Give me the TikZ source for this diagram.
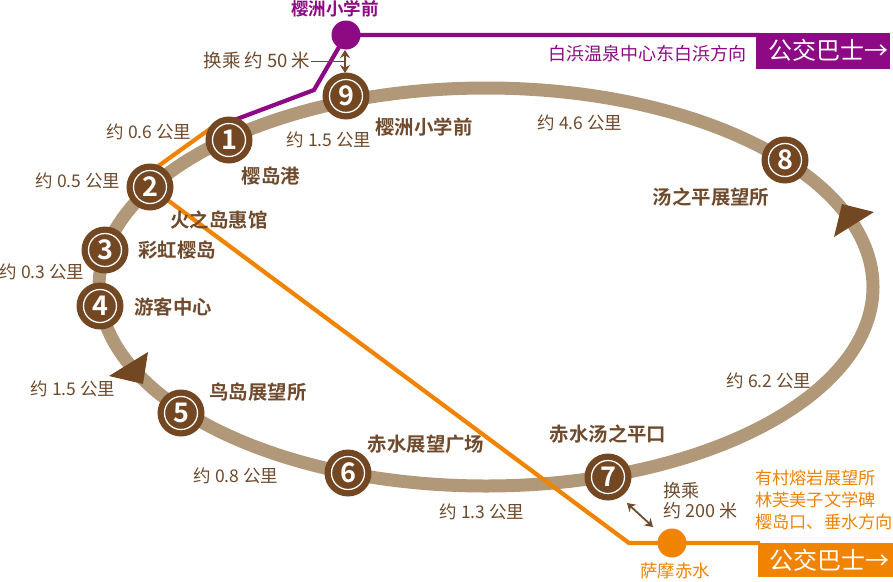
\documentclass[tikz,border=0pt]{standalone}
\usepackage{fontspec}
\setmainfont{Noto Sans CJK SC}[BoldFont={Noto Sans CJK SC Bold}]
\usetikzlibrary{arrows.meta}
\definecolor{trackc}{HTML}{B09878}
\definecolor{brownc}{HTML}{734722}
\definecolor{textc}{HTML}{6F4A2C}
\definecolor{purplec}{HTML}{8E0A84}
\definecolor{orangec}{HTML}{F08300}
\tikzset{
  station/.style={circle,fill=brownc,minimum size=47pt,inner sep=0pt,text=white,
    font=\fontsize{27pt}{27pt}\bfseries,
    path picture={\draw[white,line width=1.3pt] (path picture bounding box.center) circle (16.5pt);}},
  distlabel/.style={text=textc,font=\fontsize{17.5pt}{20pt}\selectfont,inner sep=0pt},
  stationname/.style={text=textc,font=\fontsize{19.4pt}{22pt}\bfseries,inner sep=0pt},
  busstop/.style={circle,minimum size=29pt,inner sep=0pt},
  busbox/.style={text=white,font=\fontsize{24pt}{26pt}\selectfont,anchor=west,inner sep=0pt},
  pline/.style={purplec,line width=4.2pt,line join=round},
  oline/.style={orangec,line width=4.2pt,line join=round},
  tri/.style={fill=brownc,draw=none},
  dbl/.style={textc,line width=1.8pt,{Stealth[length=8pt,width=10pt]}-{Stealth[length=8pt,width=10pt]}},
}
\begin{document}
\begin{tikzpicture}[x=1pt,y=-1pt]
\useasboundingbox (0,0) rectangle (893,581);
% track
\draw[trackc,line width=13pt] (486,287) ellipse [x radius=387,y radius=199];
\fill[tri] (148,352) -- (109,376) -- (143,384) -- cycle;
\fill[tri] (842,204) -- (874,212) -- (834,237) -- cycle;
% positions
\coordinate (c1) at (229,140);
\coordinate (c2) at (150,187);
\coordinate (c1p) at (229,122);
\coordinate (c1o) at (221,121);
\coordinate (c2o) at (150,172);
\coordinate (bendp) at (314,90);
\coordinate (bendo) at (629,543);
\coordinate (pend) at (760,35);
\coordinate (oend) at (760,543);
\coordinate (aup) at (345,50);
\coordinate (adown) at (345,73);
\coordinate (lead) at (311,61.5);
\coordinate (leadend) at (345,61.5);
\coordinate (a7) at (627,503);
\coordinate (ao) at (653,527);
% bus boxes
\fill[purplec] (756,33) rectangle (890,69);
\fill[orangec] (758,543) rectangle (893,577);
\node[busbox] (busp) at (768,50) {公交巴士→};
\node[busbox] (buso) at (769,560) {公交巴士→};
% stops
\node[busstop,fill=purplec] (sp) at (346,35) {};
\node[busstop,fill=orangec] (so) at (672,543) {};
% lines
\draw[pline] (c1p) -- (bendp) -- (sp.center) -- (pend);
\draw[oline] (c1o) -- (c2o);
\draw[oline] (c2) -- (bendo) -- (oend);
% transfer marks
\draw[textc,line width=1.2pt] (lead) -- (leadend);
\draw[dbl] (aup) -- (adown);
\draw[dbl] (a7) -- (ao);
% stations
\node[station] (n1) at (c1) {1};
\node[station] (n2) at (c2) {2};
\node[station] (n3) at (105,250) {3};
\node[station] (n4) at (100,306) {4};
\node[station] (n5) at (181,413) {5};
\node[station] (n6) at (348,473) {6};
\node[station] (n7) at (608,477) {7};
\node[station] (n8) at (785,160) {8};
\node[station] (n9) at (346,96) {9};
% distances
\node[distlabel] (d1) at (149,132) {约 0.6 公里};
\node[distlabel] (d2) at (78,181) {约 0.5 公里};
\node[distlabel] (d3) at (42,272) {约 0.3 公里};
\node[distlabel] (d4) at (73,389) {约 1.5 公里};
\node[distlabel] (d5) at (236,476) {约 0.8 公里};
\node[distlabel] (d6) at (482,512) {约 1.3 公里};
\node[distlabel] (d7) at (769,381) {约 6.2 公里};
\node[distlabel] (d8) at (580,123) {约 4.6 公里};
\node[distlabel] (d9) at (329,140) {约 1.5 公里};
\node[distlabel,font=\fontsize{18.5pt}{20pt}\selectfont] (t50) at (257,60) {换乘 约 50 米};
\node[distlabel,anchor=west,font=\fontsize{18pt}{20pt}\selectfont] (t200a) at (663,491) {换乘};
\node[distlabel,anchor=west,font=\fontsize{18pt}{20pt}\selectfont] (t200b) at (663,511) {约 200 米};
% names
\node[stationname] (m9) at (424,127) {樱洲小学前};
\node[stationname] (m1) at (271,176) {樱岛港};
\node[stationname] (m2) at (219,220) {火之岛惠馆};
\node[stationname] (m3) at (177,250) {彩虹樱岛};
\node[stationname] (m4) at (173,307) {游客中心};
\node[stationname] (m5) at (258,392) {鸟岛展望所};
\node[stationname] (m6) at (426,444) {赤水展望广场};
\node[stationname] (m7) at (608,434) {赤水汤之平口};
\node[stationname] (m8) at (711,197) {汤之平展望所};
\node[stationname,text=purplec,font=\fontsize{17.5pt}{20pt}\bfseries] (tp) at (335,9) {樱洲小学前};
\node[distlabel,text=purplec,font=\fontsize{18pt}{20pt}\selectfont] (dirp) at (647,54) {白浜温泉中心东白浜方向};
\node[distlabel,text=orangec,font=\fontsize{17.2pt}{22pt}\selectfont,anchor=west,align=left] (diro) at (755,500) {有村熔岩展望所\\林芙美子文学碑\\樱岛口、垂水方向};
\node[distlabel,text=orangec] (to) at (675,571) {萨摩赤水};
\end{tikzpicture}
\end{document}
